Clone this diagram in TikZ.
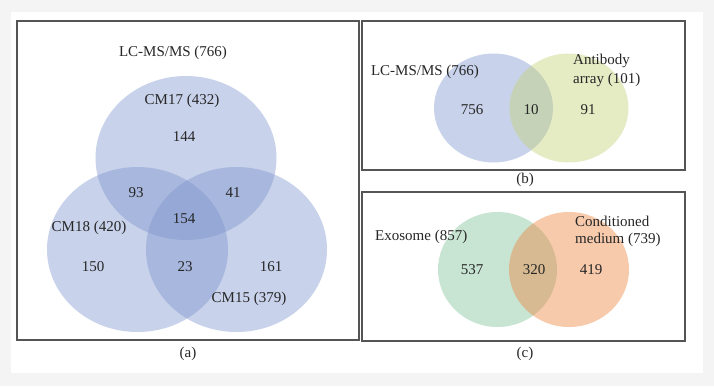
\documentclass[tikz,border=0pt]{standalone}
\usepackage{fontspec}
\setmainfont{Liberation Serif}
\definecolor{pagebg}{RGB}{244,244,244}
\definecolor{framec}{RGB}{85,85,85}
\definecolor{vblue}{RGB}{125,148,205}
\definecolor{vyellow}{RGB}{195,210,115}
\definecolor{vgreen}{RGB}{124,191,148}
\definecolor{vorange}{RGB}{236,129,57}
\tikzset{
  lbl/.style={inner sep=0pt, font=\fontsize{15}{18}\selectfont, text=black!85},
  panel/.style={draw=framec, line width=1.1pt},
  vset/.style={fill=#1, fill opacity=0.42}
}
\begin{document}
\begin{tikzpicture}[x=1pt,y=-1pt]
\useasboundingbox (0,0) rectangle (714,386);
\fill[pagebg] (0,0) rectangle (714,386);
\fill[white] (11,12) rectangle (703,373);
% panel frames
\draw[panel] (17,21) rectangle (359,340);
\draw[panel] (362,21) rectangle (685,170);
\draw[panel] (362,192) rectangle (685,341);
% (a)
\fill[vset=vblue] (186,158) ellipse [x radius=90.5pt, y radius=82pt];
\fill[vset=vblue] (137.5,249.5) ellipse [x radius=90.5pt, y radius=82.5pt];
\fill[vset=vblue] (236.5,249.5) ellipse [x radius=90.5pt, y radius=82.5pt];
\node[lbl] (lcms) at (173,53) {LC-MS/MS (766)};
\node[lbl] (cm17) at (182,101) {CM17 (432)};
\node[lbl] (n144) at (184,137) {144};
\node[lbl] (n93) at (136,193) {93};
\node[lbl] (n41) at (233,193) {41};
\node[lbl] (n154) at (184,219) {154};
\node[lbl] (cm18) at (89,228) {CM18 (420)};
\node[lbl] (n150) at (93,267) {150};
\node[lbl] (n23) at (185,267) {23};
\node[lbl] (n161) at (271,267) {161};
\node[lbl] (cm15) at (249,299) {CM15 (379)};
\node[lbl] (capa) at (188,354) {(a)};
% (b)
\fill[vset=vblue] (493.5,108) ellipse [x radius=59.5pt, y radius=54.5pt];
\fill[vset=vyellow] (569,108) ellipse [x radius=59.5pt, y radius=54.5pt];
\node[lbl] (lcmsb) at (425,72) {LC-MS/MS (766)};
\node[lbl,anchor=west] (antib) at (573,61) {Antibody};
\node[lbl,anchor=west] (arr) at (573,80) {array (101)};
\node[lbl] (n756) at (472,110) {756};
\node[lbl] (n10) at (531,110) {10};
\node[lbl] (n91) at (588,110) {91};
\node[lbl] (capb) at (525,180) {(b)};
% (c)
\fill[vset=vgreen] (497.5,269.5) ellipse [x radius=59.5pt, y radius=57.5pt];
\fill[vset=vorange] (569,269.5) ellipse [x radius=60pt, y radius=57.5pt];
\node[lbl,anchor=west] (exo) at (375,237) {Exosome (857)};
\node[lbl,anchor=west] (cond) at (575,221) {Conditioned};
\node[lbl,anchor=west] (med) at (575,240) {medium (739)};
\node[lbl] (n537) at (472,270) {537};
\node[lbl] (n320) at (534,270) {320};
\node[lbl] (n419) at (591,270) {419};
\node[lbl] (capc) at (525,354) {(c)};
\end{tikzpicture}
\end{document}
